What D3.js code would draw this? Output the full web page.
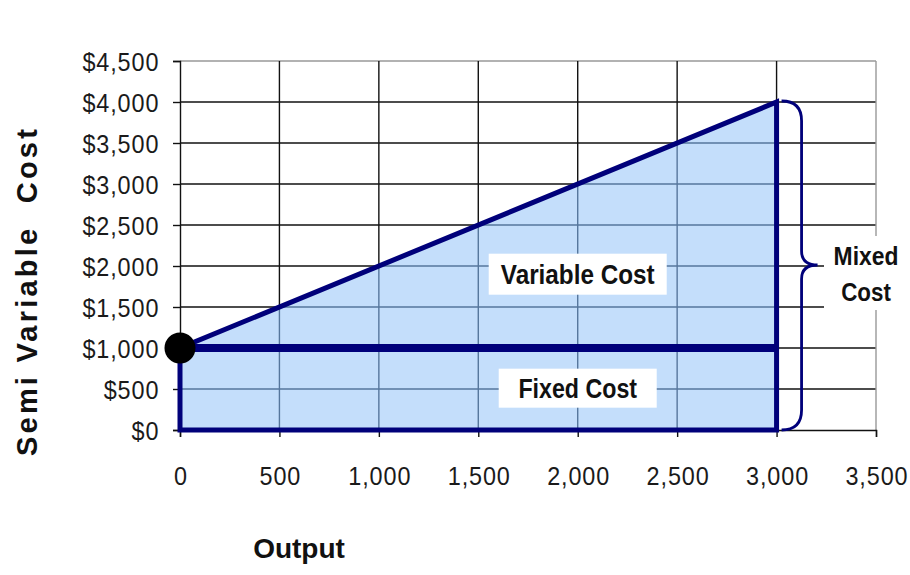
<!DOCTYPE html>
<html><head><meta charset="utf-8">
<script src="https://cdn.jsdelivr.net/npm/d3@7"></script>
<style>body{margin:0;background:#fff}svg{display:block}</style>
</head><body>
<svg id="c" width="910" height="575"></svg>
<script>
const xTicks = [0, 500, 1000, 1500, 2000, 2500, 3000, 3500];
const yTicks = [0, 500, 1000, 1500, 2000, 2500, 3000, 3500, 4000, 4500];
const output = [0, 3000];
const fixedCost = [1000, 1000];
const totalCost = [1000, 4000];
const labels = {x: "Output", y: "Semi Variable  Cost", variable: "Variable Cost", fixed: "Fixed Cost", mixed: ["Mixed", "Cost"]};

const svg = d3.select("#c");
const x = d3.scaleLinear().domain([0, 3500]).range([180, 876]);
const y = d3.scaleLinear().domain([0, 4500]).range([430, 61]);
const navy = "#00007a";
const sans = "'Liberation Sans',Arial,sans-serif";

const poly = [[output[0], 0], [output[0], totalCost[0]], [output[1], totalCost[1]], [output[1], 0]];
const polyPath = d3.line().x(d => x(d[0])).y(d => y(d[1]))(poly) + "Z";
svg.append("defs").append("clipPath").attr("id", "ac").append("path").attr("d", polyPath);

function grid(g, color) {
  yTicks.slice(1).forEach(v => g.append("line").attr("x1", x(0)).attr("x2", x(3500))
    .attr("y1", y(v)).attr("y2", y(v)).attr("stroke", v === 4500 ? "#999" : color).attr("stroke-width", 1.4));
  xTicks.slice(1).forEach(v => g.append("line").attr("x1", x(v)).attr("x2", x(v))
    .attr("y1", y(0)).attr("y2", y(4500)).attr("stroke", v === 3500 ? "#999" : color).attr("stroke-width", 1.4));
}
grid(svg.append("g"), "#111");
svg.append("path").attr("d", polyPath).attr("fill", "#c4defb");
grid(svg.append("g").attr("clip-path", "url(#ac)"), "#56769c");

// axes
const yAxis = d3.axisLeft(y).tickValues(yTicks).tickSize(7).tickFormat(d => "$" + d3.format(",")(d));
const xAxis = d3.axisBottom(x).tickValues(xTicks).tickSize(7).tickFormat(d3.format(","));
const ya = svg.append("g").attr("transform", `translate(${x(0)},0)`).call(yAxis);
const xa = svg.append("g").attr("transform", `translate(0,${y(0)})`).call(xAxis);
[ya, xa].forEach(a => {
  a.attr("font-family", sans).attr("font-size", 26);
  a.select(".domain").attr("stroke", "#111").attr("stroke-width", 1.4);
  a.selectAll(".tick line").attr("stroke", "#111").attr("stroke-width", 1.4);
  a.selectAll("text").attr("fill", "#1a1a1a").style("letter-spacing", "1px").attr("transform", "scale(0.9,1)");
});
ya.selectAll("text").attr("x", -23).attr("dy", "0.35em");
xa.selectAll("text").attr("y", 55).attr("dy", 0).attr("dx", 0.5);

// region lines
svg.append("path").attr("d", polyPath).attr("fill", "none").attr("stroke", navy).attr("stroke-width", 5).attr("stroke-linejoin", "miter");
svg.append("line").attr("x1", x(output[0])).attr("x2", x(output[1]))
  .attr("y1", y(fixedCost[0])).attr("y2", y(fixedCost[1])).attr("stroke", navy).attr("stroke-width", 8);
svg.append("circle").attr("cx", x(output[0])).attr("cy", y(fixedCost[0])).attr("r", 15.5).attr("fill", "#000");

function narrowText(cx, cy, text, size, sx) {
  svg.append("text").attr("transform", `translate(${cx},${cy}) scale(${sx},1)`).attr("dy", "0.36em")
    .attr("text-anchor", "middle").attr("font-family", sans).attr("font-weight", "bold")
    .attr("font-size", size).attr("fill", "#111").text(text);
}
function boxLabel(cx, cy, w, h, text, sx) {
  svg.append("rect").attr("x", cx - w / 2).attr("y", cy - h / 2).attr("width", w).attr("height", h).attr("fill", "#fff");
  narrowText(cx, cy, text, 27, sx);
}
boxLabel(x(2000), y(1900), 178, 41, labels.variable, 0.9);
boxLabel(x(2000), y(510), 158, 39, labels.fixed, 0.86);

// mixed label
svg.append("rect").attr("x", 824).attr("y", 236).attr("width", 86).attr("height", 74).attr("fill", "#fff");
narrowText(866, 256, labels.mixed[0], 26, 0.88);
narrowText(866, 292, labels.mixed[1], 26, 0.86);

// brace
const bx0 = x(3000) + 5, bx1 = bx0 + 20, tip = bx1 + 16;
const yt = y(4000) - 1, yb = y(0), ym = 265;
const r = 20;
const brace = `M${bx0},${yt} Q${bx1},${yt} ${bx1},${yt + r} L${bx1},${ym - 14} Q${bx1},${ym} ${tip},${ym} Q${bx1},${ym} ${bx1},${ym + 14} L${bx1},${yb - r} Q${bx1},${yb} ${bx0},${yb}`;
svg.append("path").attr("d", brace).attr("fill", "none").attr("stroke", navy).attr("stroke-width", 2.8);

// axis titles
svg.append("text").attr("transform", `translate(37,291) rotate(-90)`).attr("text-anchor", "middle")
  .attr("font-family", sans).attr("font-weight", "bold").attr("font-size", 29)
  .attr("fill", "#111").style("white-space", "pre").style("letter-spacing", "3.2px").text(labels.y);
svg.append("text").attr("x", 299).attr("y", 558).attr("text-anchor", "middle")
  .attr("font-family", sans).attr("font-weight", "bold").attr("font-size", 28).attr("fill", "#111").text(labels.x);
</script>
</body></html>
